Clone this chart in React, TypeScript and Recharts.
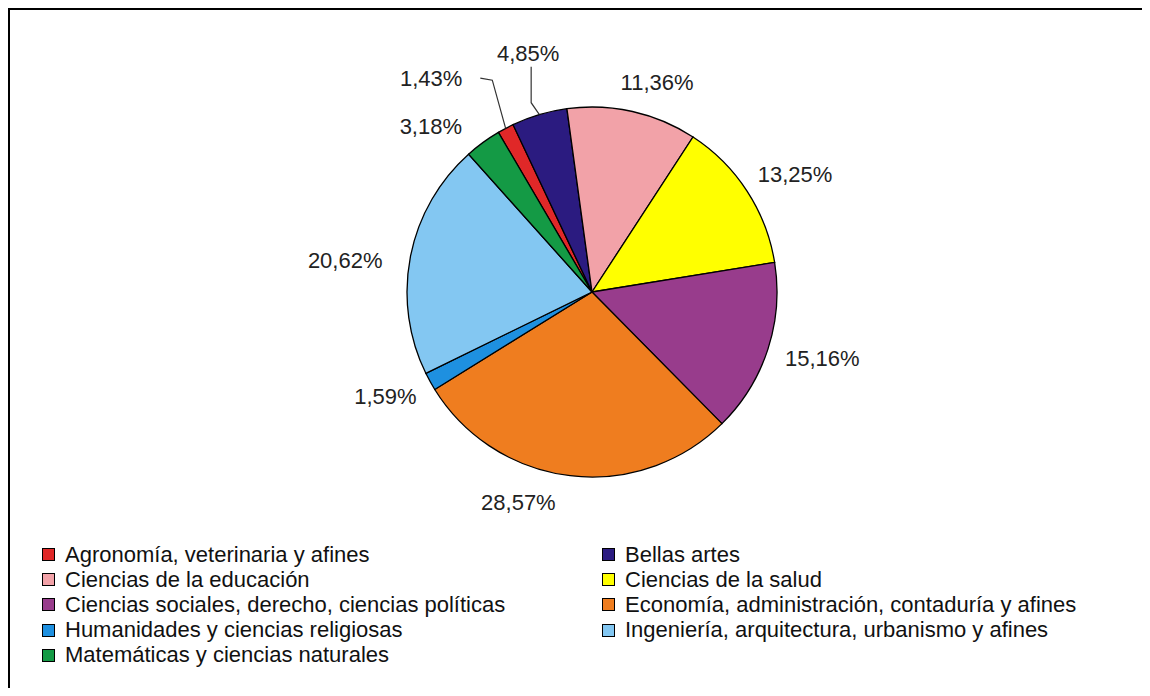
import { PieChart, Pie, Cell, Legend } from "recharts";

const categories = [
  "Agronomía, veterinaria y afines",
  "Bellas artes",
  "Ciencias de la educación",
  "Ciencias de la salud",
  "Ciencias sociales, derecho, ciencias políticas",
  "Economía, administración, contaduría y afines",
  "Humanidades y ciencias religiosas",
  "Ingeniería, arquitectura, urbanismo y afines",
  "Matemáticas y ciencias naturales",
];
const shares = [1.43, 4.85, 11.36, 13.25, 15.16, 28.57, 1.59, 20.62, 3.18];
const colors = [
  "#e02828", "#2b1b80", "#f2a2a8", "#ffff00", "#983c8c",
  "#ef7d1f", "#1e90e0", "#83c7f2", "#149a45",
];
// slices whose label sits on a leader line (too thin / crowded at the top)
const leaderSlices = ["Agronomía, veterinaria y afines", "Bellas artes"];
// labels that were dragged a bit in the original
const labelNudge: Record<string, [number, number]> = {
  "Ciencias de la educación": [12, 0],
  "Economía, administración, contaduría y afines": [-45, -3],
  "Ingeniería, arquitectura, urbanismo y afines": [-9, 10],
  "Matemáticas y ciencias naturales": [-22, 8],
};

const FONT = "'Liberation Sans', Arial, sans-serif";
const FS = 22;
const RAD = Math.PI / 180;

const rows = categories.map((name, i) => ({ name, value: shares[i], fill: colors[i] }));

const fmt = (v: number) => v.toFixed(2).replace(".", ",") + "%";

function renderLabel(props: any) {
  const { cx, cy, midAngle, outerRadius, value, name } = props;
  const ux = Math.cos(-midAngle * RAD);
  const uy = Math.sin(-midAngle * RAD);
  const text = fmt(value);

  if (leaderSlices.includes(name)) {
    const ex = cx + outerRadius * ux, ey = cy + outerRadius * uy;
    const qx = cx + (outerRadius + 50) * ux, qy = cy + (outerRadius + 50) * uy;
    if (Math.abs(ux) < 0.3) {
      return (
        <g>
          <polyline points={`${ex},${ey} ${qx + 6},${qy + 36} ${qx + 6},${qy}`} fill="none" stroke="#333" strokeWidth={1.2} />
          <text x={qx + 3} y={qy - 6} textAnchor="middle" fill="#222" fontSize={FS} fontFamily={FONT}>{text}</text>
        </g>
      );
    }
    const side = ux < 0 ? -1 : 1;
    return (
      <g>
        <polyline points={`${ex},${ey} ${qx + 10},${qy - 4} ${qx - 2},${qy - 6}`} fill="none" stroke="#333" strokeWidth={1.2} />
        <text x={qx - 2 + side * 18} y={qy - 6} textAnchor={side < 0 ? "end" : "start"} dominantBaseline="central"
          fill="#222" fontSize={FS} fontFamily={FONT}>{text}</text>
      </g>
    );
  }

  const [nx, ny] = labelNudge[name] ?? [0, 0];
  const px = cx + (outerRadius + 20) * ux;
  const py = cy + (outerRadius + 20) * uy;
  const w = text.length * 0.565 * FS;
  const h = 20;
  return (
    <text x={px + ux * w / 2 + nx} y={py + uy * h / 2 + ny} textAnchor="middle" dominantBaseline="central"
      fill="#222" fontSize={FS} fontFamily={FONT}>{text}</text>
  );
}

const renderLegend = () => (
  <div style={{ position: "relative", width: 1100, height: 130, fontFamily: FONT, fontSize: FS, color: "#111" }}>
    {categories.map((c, i) => {
      const col = i % 2;
      const row = Math.floor(i / 2);
      return (
        <div key={c} style={{
          position: "absolute", left: col ? 560 : 0, top: row * 25.2, height: 25,
          display: "flex", alignItems: "center", whiteSpace: "nowrap",
        }}>
          <span style={{ width: 11, height: 11, flexShrink: 0, background: colors[i], border: "1px solid #000", marginRight: 10 }} />
          <span>{c}</span>
        </div>
      );
    })}
  </div>
);

export default function App() {
  return (
    <div style={{
      width: 1142, height: 680, boxSizing: "border-box", background: "#fff", overflow: "hidden",
      borderTop: "2px solid #000", borderLeft: "2px solid #000",
    }}>
      <PieChart width={1140} height={678} margin={{ top: 0, right: 0, bottom: 0, left: 0 }}>
        <Pie
          data={rows} dataKey="value" nameKey="name"
          cx={582} cy={282} outerRadius={185}
          startAngle={120.4} endAngle={-239.6}
          stroke="#000" strokeWidth={1.3}
          label={renderLabel} labelLine={false}
          isAnimationActive={false}
        >
          {rows.map((r) => <Cell key={r.name} fill={r.fill} />)}
        </Pie>
        <Legend content={renderLegend} wrapperStyle={{ left: 32, top: 532, width: 1100 }} />
      </PieChart>
    </div>
  );
}
